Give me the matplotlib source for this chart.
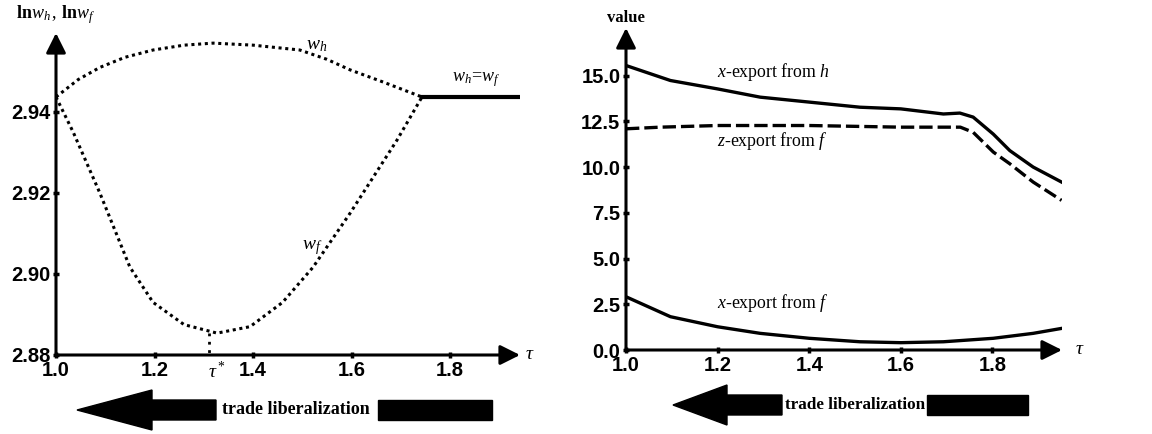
import matplotlib.pyplot as plt
from matplotlib.patches import Polygon, Rectangle

plt.rcParams['mathtext.fontset'] = 'custom'
plt.rcParams['mathtext.rm'] = 'Liberation Serif'
plt.rcParams['mathtext.it'] = 'Liberation Serif:italic'
plt.rcParams['mathtext.bf'] = 'Liberation Serif:bold'

# left panel: log wages against tau
tau_wh = [1.0, 1.045, 1.089, 1.14, 1.197, 1.26, 1.319, 1.40, 1.495, 1.55, 1.597, 1.664, 1.743]
lnwh = [2.9437, 2.948, 2.951, 2.9535, 2.9553, 2.9565, 2.957, 2.9565, 2.9553, 2.953, 2.9504, 2.9474, 2.9437]
tau_wf = [1.0, 1.035, 1.089, 1.15, 1.197, 1.26, 1.327, 1.394, 1.46, 1.522, 1.597, 1.692, 1.743]
lnwf = [2.9437, 2.935, 2.92, 2.9017, 2.893, 2.8875, 2.8854, 2.887, 2.893, 2.9017, 2.915, 2.933, 2.9437]
tau_eq = [1.743, 1.942]
lnw_eq = [2.9437, 2.9437]
tau_star = 1.31
left_yticks = [2.88, 2.90, 2.92, 2.94]
left_xticks = [1.0, 1.2, 1.4, 1.6, 1.8]

# right panel: export values against tau
tau_r = [1.0, 1.097, 1.2, 1.293, 1.4, 1.511, 1.6, 1.693, 1.729, 1.758, 1.802, 1.838, 1.889, 1.951]
x_from_h = [15.55, 14.73, 14.27, 13.82, 13.55, 13.27, 13.18, 12.9, 12.95, 12.73, 11.8, 10.9, 10.0, 9.18]
tau_z = [1.0, 1.075, 1.2, 1.4, 1.6, 1.73, 1.758, 1.802, 1.838, 1.889, 1.951]
z_from_f = [12.09, 12.18, 12.27, 12.27, 12.18, 12.18, 11.9, 10.82, 10.18, 9.18, 8.18]
tau_xf = [1.0, 1.097, 1.2, 1.293, 1.4, 1.511, 1.6, 1.693, 1.802, 1.889, 1.951]
x_from_f = [2.91, 1.82, 1.27, 0.91, 0.64, 0.45, 0.4, 0.45, 0.64, 0.91, 1.18]
right_yticks = [0.0, 2.5, 5.0, 7.5, 10.0, 12.5, 15.0]
right_xticks = [1.0, 1.2, 1.4, 1.6, 1.8]

W, H = 1152, 434
fig = plt.figure(figsize=(W / 100, H / 100), dpi=100)
serif = 'Liberation Serif'
sans = 'Liberation Sans'


def px_axes(x0, x1, y_top, y_bot):
    return fig.add_axes([x0 / W, 1 - y_bot / H, (x1 - x0) / W, (y_bot - y_top) / H])


def style_axes(ax, xticks, yticks, xfmt, yfmt):
    for s in ax.spines.values():
        s.set_visible(False)
    arrow = dict(arrowstyle='-|>', lw=2.2, color='black', mutation_scale=30, shrinkA=0, shrinkB=0)
    ax.annotate('', xy=(1, 0), xytext=(0, 0), xycoords='axes fraction', arrowprops=arrow)
    ax.annotate('', xy=(0, 1), xytext=(0, 0), xycoords='axes fraction', arrowprops=arrow)
    ax.set_xticks(xticks)
    ax.set_yticks(yticks)
    ax.set_xticklabels([xfmt.format(t) for t in xticks], fontfamily=sans, fontweight='bold', fontsize=14.5)
    ax.set_yticklabels([yfmt.format(t) for t in yticks], fontfamily=sans, fontweight='bold', fontsize=14.5)
    ax.tick_params(length=4, width=2.5, direction='inout', pad=2)
    ax.set_facecolor('none')


# left panel
ax1 = px_axes(56, 520, 33, 355)
ax1.set_xlim(1.0, 1.942)
ax1.set_ylim(2.88, 2.9595)
ax1.plot(tau_wh, lnwh, color='black', lw=2.2, ls=(0, (1, 1.2)))
ax1.plot(tau_wf, lnwf, color='black', lw=2.2, ls=(0, (1, 1.2)))
ax1.plot(tau_eq, lnw_eq, color='black', lw=3)
ax1.plot([tau_star, tau_star], [min(lnwf), 2.88], color='black', lw=2, ls=(0, (1, 2)))
style_axes(ax1, left_xticks, left_yticks, '{:.1f}', '{:.2f}')
ax1.text(1.53, 2.9565, r'$w_h$', fontfamily=serif, fontsize=14, ha='center', va='center')
ax1.text(1.52, 2.9065, r'$w_f$', fontfamily=serif, fontsize=14, ha='center', va='center')
ax1.text(1.853, 2.9481, r'$w_h\!=\!w_f$', fontfamily=serif, fontsize=13, ha='center', va='center')
ax1.text(1.327, 2.8785, r'$\tau^*$', fontfamily=serif, fontsize=14, ha='center', va='top')
ax1.text(1.0, 2.964, r'$\mathbf{ln}w_h\,,\,\mathbf{ln}w_f$', fontfamily=serif, fontsize=13,
         ha='center', va='center')
ax1.text(1.942 + 0.01, 2.88, r'$\tau$', fontfamily=serif, fontsize=14, ha='left', va='center')

# right panel
ax2 = px_axes(626, 1062, 28, 350)
ax2.set_xlim(1.0, 1.952)
ax2.set_ylim(0, 17.6)
ax2.plot(tau_r, x_from_h, color='black', lw=2.4)
ax2.plot(tau_z, z_from_f, color='black', lw=2.4, ls=(0, (4, 1.5)))
ax2.plot(tau_xf, x_from_f, color='black', lw=2.4)
style_axes(ax2, right_xticks, right_yticks, '{:.1f}', '{:.1f}')
ax2.text(1.199, 15.2, r'$x$-export from $h$', fontfamily=serif, fontsize=12.8, ha='left', va='center')
ax2.text(1.199, 11.4, r'$z$-export from $f$', fontfamily=serif, fontsize=12.8, ha='left', va='center')
ax2.text(1.199, 2.55, r'$x$-export from $f$', fontfamily=serif, fontsize=12.8, ha='left', va='center')
ax2.text(1.0, 18.15, 'value', fontfamily=serif, fontweight='bold', fontsize=12, ha='center', va='center')
ax2.text(1.98, 0, r'$\tau$', fontfamily=serif, fontsize=14, ha='left', va='center')

# trade liberalization arrows under both panels
ov = fig.add_axes([0, 0, 1, 1], zorder=-1)
ov.set_xlim(0, W)
ov.set_ylim(H, 0)
ov.axis('off')
for tip, back, body_end, text_x, rect_x0, rect_x1, yc, fs in [
        (77, 152, 216, 296, 378, 492, 410, 13),
        (673, 727, 782, 855, 927, 1028, 405, 12.3)]:
    ov.add_patch(Polygon([(tip, yc), (back, yc - 20), (back, yc - 10), (body_end, yc - 10),
                          (body_end, yc + 10), (back, yc + 10), (back, yc + 20)], closed=True,
                         color='black'))
    ov.text(text_x, yc, 'trade liberalization', fontfamily=serif, fontweight='bold',
            fontsize=fs, ha='center', va='center')
    ov.add_patch(Rectangle((rect_x0, yc - 10), rect_x1 - rect_x0, 20, color='black'))

fig.savefig('out.png', dpi=100)
